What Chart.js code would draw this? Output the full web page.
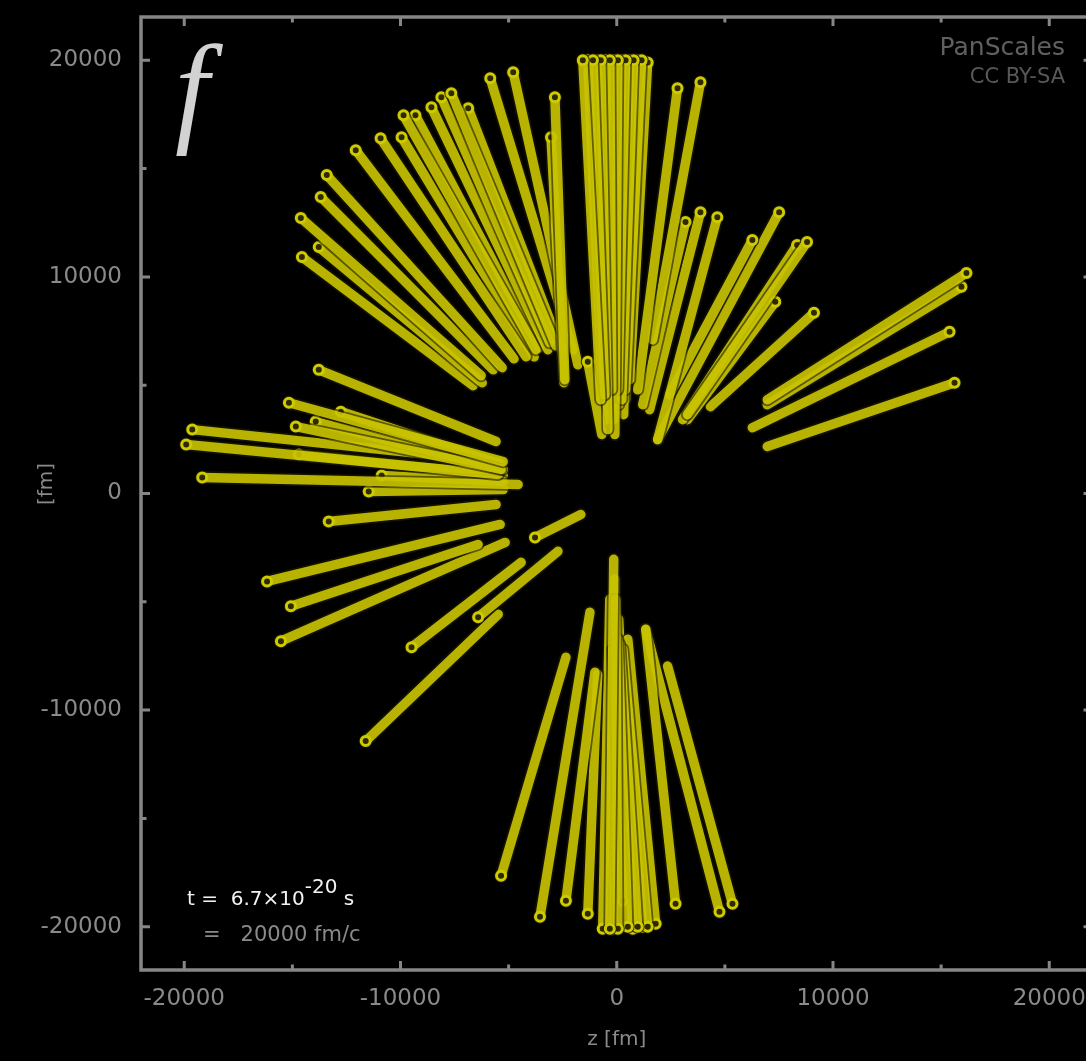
<!DOCTYPE html>
<html>
<head>
<meta charset="utf-8">
<script src="https://cdn.jsdelivr.net/npm/chart.js@4.4.1/dist/chart.umd.min.js"></script>
<style>
  html, body { margin: 0; background: #000; }
  #wrap { position: relative; width: 1086px; height: 1061px; overflow: hidden; background: #000; }
  #c { position: absolute; left: 0; top: 0; }
  .t { position: absolute; white-space: pre; font-family: "DejaVu Sans"; line-height: 1; }
</style>
</head>
<body>
<div id="wrap">
  <canvas id="c" width="1100" height="1061"></canvas>
  <div class="t" style="left:175px;top:28px;font-family:'Liberation Serif';font-style:italic;font-size:122px;color:#d2d2d2;">f</div>
  <div class="t" style="right:21px;top:34px;font-size:25px;color:#606060;">PanScales</div>
  <div class="t" style="right:21px;top:66px;font-size:21px;color:#585858;">CC BY-SA</div>
  <div class="t" style="left:187px;top:888px;font-size:20px;color:#f2f2f2;">t =  6.7×10<span style="position:relative;top:-12px;">-20</span> s</div>
  <div class="t" style="left:203px;top:924px;font-size:21px;color:#8a8a8a;">=   20000 fm/c</div>
</div>
<script>
"use strict";

// Tracks in the (z, x) plane, fm. Start = inner end, end = outer end (ring marker).
const zStart = [
  -740, -550, -410, -230, -90, 50, 230, 410, 600, -2400,
  -2440, -690, -1800, -2030, -2810, -3090, -3180, -2580, -3730, -3590,
  -4190, -3820, -4750, -5300, -5710, -6270, -6220, -6640, -5580, -5250,
  -5350, -5250, -5350, -5480, -5480, -4560, -5250, -5250, -5250, -5580,
  -5390, -6410, -5160, -4420, -2720, -5480, -1660, -2350, -1240, -1010,
  -880, -140, -50, 50, 140, 280, 510, -180, 1340, 1340,
  2350, 970, 1660, 1200, 1520, 1890, 2440, 1890, 3270, 3040,
  3270, 4330, 6960, 6960, 6270, 6960,
  -650, -460, -320, -140, 90, 320, 410,
  -320, -90, 90, 230
];
const xStart = [
  4330, 4560, 2950, 4790, 2720, 4790, 4330, 4790, 5250, 5250,
  5110, 2720, 5940, 6640, 6820, 6960, 6640, 6680, 6640, 6730,
  6310, 6310, 6220, 5810, 5710, 5440, 5110, 4980, 2400, 1470,
  1110, 1110, 1340, 1470, 880, 410, 550, 180, 830, -510,
  -1430, -2350, -2260, -3180, -2670, -5580, -970, -7560, -5480, -8250,
  -8340, -3040, -4880, -6730, -6960, -7190, -6730, -7190, -6270, -6270,
  -7970, 4790, 7100, 4100, 3870, 2490, 4560, 2490, 3640, 3410,
  3410, 4010, 4330, 4100, 3040, 2170,
  4560, 3410, 4330, 3410, 4100, 3640, 4330,
  -4880, -3960, -5810, -6730
];
const zEnd = [
  -1570, -1100, -740, -320, 50, 410, 780, 1150, 1430, -2860,
  -3040, -1340, -4790, -5850, -7650, -8110, -8570, -6870, -9860, -9310,
  -10920, -9950, -12070, -13410, -13690, -14610, -13780, -14560, -13780, -15160,
  -14840, -13920, -12760, -19630, -19910, -19170, -10870, -11470, -14700, -13320,
  -16170, -15070, -15530, -9490, -6410, -11610, -3780, -5350, -3550, -2350,
  -1340, -320, 50, 510, 970, 1430, 1800, 280, 2720, 4750,
  5350, 2810, 3870, 3180, 3870, 4650, 6270, 7510, 8800, 8340,
  7330, 9120, 16170, 15940, 15390, 15620,
  -1340, -920, -510, -140, 230, 600, 970,
  -650, -180, 740, 1200
];
const xEnd = [
  20000, 20000, 20000, 20000, 20000, 20000, 20000, 20000, 19900, 18290,
  16450, 6080, 19450, 19170, 18480, 18290, 17830, 17790, 17460, 17460,
  16400, 16450, 15850, 14700, 13690, 12720, 11380, 10920, 5710, 4190,
  3090, 3320, 3780, 2950, 2260, 740, 830, 90, 1800, -1290,
  -4060, -5210, -6820, -7100, -5710, -11430, -2030, -17650, -19540, -18800,
  -19400, -20100, -20100, -20000, -20000, -20000, -19860, -18800, -18940, -19310,
  -18940, 18710, 18990, 12530, 12990, 12760, 11700, 12990, 11610, 11470,
  8850, 8340, 10180, 9540, 7470, 5110,
  20000, 20000, 20000, 20000, 20000, 20000, 20000,
  -20100, -20100, -20100, -20000
];

// axis ticks: labelled every 10000, minor marks in between
const tickValues = [-20000, -15000, -10000, -5000, 0, 5000, 10000, 15000, 20000];
const labelStep = 10000;
const axisMin = -22000;
const axisMax = 22000;

const frameColor = "#868686";
const labelColor = "#8a8a8a";

const datasets = [];
for (let i = 0; i < zStart.length; i++) {
  const pts = [{ x: zStart[i], y: xStart[i] }, { x: zEnd[i], y: xEnd[i] }];
  // dark edge of the tube
  datasets.push({
    data: pts, showLine: true, order: 2 * i + 1,
    borderColor: "rgba(30,28,0,0.6)", borderWidth: 13, borderCapStyle: "round",
    pointRadius: [0, 7], pointBackgroundColor: "rgba(30,28,0,0.8)", pointBorderWidth: 0,
  });
  // yellow body + ring at the outer end
  datasets.push({
    data: pts, showLine: true, order: 2 * i,
    borderColor: "rgba(226,220,0,0.8)", borderWidth: 9.5, borderCapStyle: "round",
    pointRadius: [0, 4.5], pointBackgroundColor: "#2c2a00", pointBorderColor: "#cfcb00", pointBorderWidth: 3,
  });
}

// gnuplot-style frame with inward tick marks on all four sides
const framePlugin = {
  id: "frame",
  afterDraw(chart) {
    const { ctx, chartArea: a, scales } = chart;
    ctx.save();
    ctx.strokeStyle = frameColor;
    ctx.lineWidth = 3.5;
    ctx.strokeRect(a.left, a.top, a.right - a.left, a.bottom - a.top);
    ctx.lineWidth = 3;
    for (const v of tickValues) {
      const len = v % labelStep === 0 ? 9 : 5.5;
      const px = scales.x.getPixelForValue(v);
      const py = scales.y.getPixelForValue(v);
      ctx.beginPath();
      ctx.moveTo(px, a.bottom); ctx.lineTo(px, a.bottom - len);
      ctx.moveTo(px, a.top); ctx.lineTo(px, a.top + len);
      ctx.moveTo(a.left, py); ctx.lineTo(a.left + len, py);
      ctx.moveTo(a.right, py); ctx.lineTo(a.right - len, py);
      ctx.stroke();
    }
    ctx.restore();
  },
};

const tickFont = { family: "DejaVu Sans", size: 23 };
const titleFont = { family: "DejaVu Sans", size: 20 };
const tickLabel = (v) => (v % labelStep === 0 ? String(v) : "");
const setTicks = (s) => { s.ticks = tickValues.map((v) => ({ value: v })); };

new Chart(document.getElementById("c"), {
  type: "scatter",
  data: { datasets },
  options: {
    responsive: false,
    animation: false,
    events: [],
    layout: { padding: { top: 17, right: 6, left: 0, bottom: 0 } },
    plugins: { legend: { display: false }, tooltip: { enabled: false } },
    scales: {
      x: {
        type: "linear", min: axisMin, max: axisMax,
        afterBuildTicks: setTicks,
        afterFit: (s) => { s.height = 91; s.paddingLeft = 0; s.paddingRight = 0; },
        grid: { display: false, drawTicks: false },
        border: { display: false },
        ticks: { autoSkip: false, maxRotation: 0, padding: 15, color: labelColor, font: tickFont, callback: tickLabel },
        title: { display: true, text: "z [fm]", color: labelColor, font: titleFont, padding: { top: 0, bottom: 9 } },
      },
      y: {
        type: "linear", min: axisMin, max: axisMax,
        afterBuildTicks: setTicks,
        afterFit: (s) => { s.width = 141; s.paddingTop = 0; s.paddingBottom = 0; },
        grid: { display: false, drawTicks: false },
        border: { display: false },
        ticks: { autoSkip: false, padding: 19, color: labelColor, font: tickFont, callback: tickLabel },
        title: { display: true, text: "   [fm]", color: labelColor, font: titleFont, padding: { top: 35, bottom: 0 } },
      },
    },
  },
  plugins: [framePlugin],
});
</script>
</body>
</html>
